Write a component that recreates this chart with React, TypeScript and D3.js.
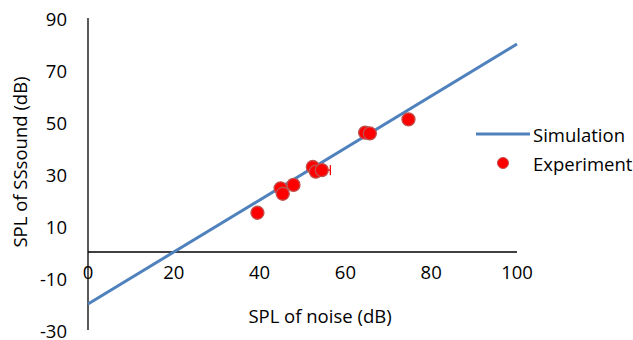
import React from "react";
import * as d3 from "d3";

const simX = [0, 100];
const simY = [-20, 80];
const expX = [39.5, 44.9, 45.4, 47.9, 52.4, 53.1, 54.5, 64.6, 65.7, 74.7];
const expY = [15.1, 24.5, 22.4, 25.8, 32.7, 30.9, 31.5, 45.9, 45.6, 51.0];
const expErr = [0.8, 0.3, 0.3, 0.3, 0.3, 0.3, 2.0, 0.3, 0.5, 0.3];
const xTicks = [0, 20, 40, 60, 80, 100];
const yTicks = [-30, -10, 10, 30, 50, 70, 90];

export default function App() {
  const W = 633, H = 340;
  const x = d3.scaleLinear().domain([0, 100]).range([88, 517]);
  const y = d3.scaleLinear().domain([-30, 90]).range([330, 18]);
  const font = "'Open Sans', sans-serif";
  const fs = 18.5;
  const line = d3.line<number>().x((d, i) => x(simX[i])).y((d, i) => y(simY[i]));
  return (
    <svg width={W} height={H} style={{ position: "absolute", left: 0, top: 0 }} fontFamily={font}>
      <rect width={W} height={H} fill="#fff" />
      <line x1={x(0)} x2={x(0)} y1={y(90)} y2={y(-30)} stroke="#000" strokeWidth={1.3} />
      <line x1={x(0)} x2={x(100)} y1={y(0)} y2={y(0)} stroke="#000" strokeWidth={1.3} />
      {yTicks.map((t) => (
        <text key={t} x={67} y={y(t)} textAnchor="end" dominantBaseline="central" fontSize={fs} fill="#000">
          {t}
        </text>
      ))}
      {xTicks.map((t) => (
        <text key={t} x={x(t)} y={y(0) + 19} textAnchor="middle" dominantBaseline="central" fontSize={fs} fill="#000">
          {t}
        </text>
      ))}
      <text x={320} y={315} textAnchor="middle" dominantBaseline="central" fontSize={fs}>
        SPL of noise (dB)
      </text>
      <text transform={`translate(19,162) rotate(-90)`} textAnchor="middle" dominantBaseline="central" fontSize={fs}>
        SPL of SSsound (dB)
      </text>
      <path d={line(simY) || ""} fill="none" stroke="#4f81bd" strokeWidth={3} />
      {expX.map((v, i) => (
        <g key={"e" + i}>
          <line x1={x(v - expErr[i])} x2={x(v + expErr[i])} y1={y(expY[i])} y2={y(expY[i])} stroke="#ff0000" strokeWidth={1.3} />
          <line x1={x(v - expErr[i])} x2={x(v - expErr[i])} y1={y(expY[i]) - 5} y2={y(expY[i]) + 5} stroke="#ff0000" strokeWidth={1.3} />
          <line x1={x(v + expErr[i])} x2={x(v + expErr[i])} y1={y(expY[i]) - 5} y2={y(expY[i]) + 5} stroke="#ff0000" strokeWidth={1.3} />
        </g>
      ))}
      {expX.map((v, i) => (
        <circle key={"c" + i} cx={x(v)} cy={y(expY[i])} r={6.5} fill="#ff0000" stroke="#c0504d" strokeWidth={1.3} />
      ))}
      <line x1={476} x2={530} y1={134} y2={134} stroke="#4f81bd" strokeWidth={3} />
      <text x={533} y={134} dominantBaseline="central" fontSize={fs}>Simulation</text>
      <circle cx={503} cy={163} r={5.5} fill="#ff0000" stroke="#c0504d" strokeWidth={1} />
      <text x={533} y={163} dominantBaseline="central" fontSize={fs}>Experiment</text>
    </svg>
  );
}
